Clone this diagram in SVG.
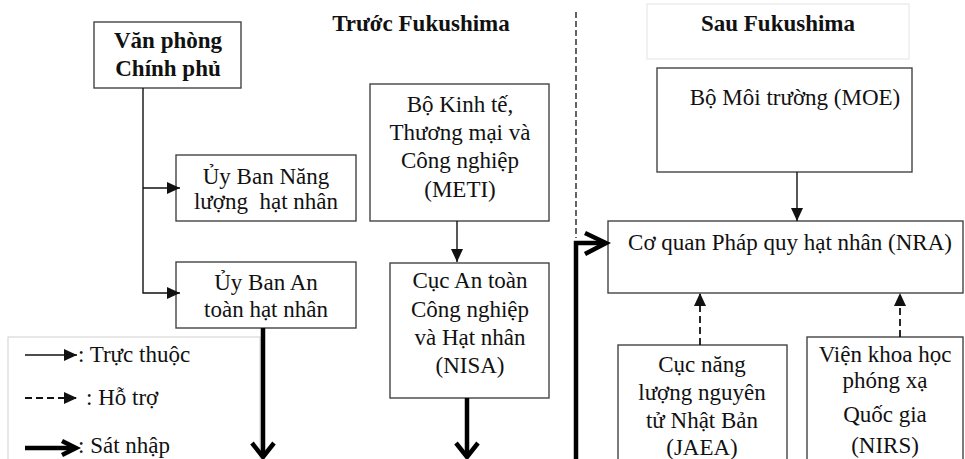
<svg xmlns="http://www.w3.org/2000/svg" width="965" height="459" viewBox="0 0 965 459">
<style>
.box{fill:#fff;stroke:#444;stroke-width:1.4}
.faint{fill:#fff;stroke:#e4e4e4;stroke-width:1}
.t{font-family:"Liberation Serif","Times New Roman",serif;font-size:23px;fill:#111;text-anchor:middle}
.b{font-weight:bold}
.l{text-anchor:start}
.thin{stroke:#111;stroke-width:1.4;fill:none}
.dash{stroke:#111;stroke-width:1.8;fill:none;stroke-dasharray:7 4}
.thick{stroke:#000;stroke-width:4.5;fill:none;stroke-linejoin:miter}
.div{stroke:#111;stroke-width:1.3;stroke-dasharray:6 3;fill:none}
</style>
<defs>
<marker id="tri" markerUnits="userSpaceOnUse" viewBox="0 0 13 12" refX="13" refY="6" markerWidth="13" markerHeight="12" orient="auto">
<path d="M0,0 L13,6 L0,12 z" fill="#111"/>
</marker>
</defs>

<rect class="faint" x="647" y="4" width="262" height="55"/>
<text class="t b" x="421" y="31">Trước Fukushima</text>
<text class="t b" x="778" y="31">Sau Fukushima</text>

<g id="vpcp">
<rect class="box" x="94" y="22" width="147" height="66"/>
<text class="t b" x="168" y="48">Văn phòng</text>
<text class="t b" x="168" y="76">Chính phủ</text>
</g>
<g id="ubnl">
<rect class="box" x="176" y="155" width="180" height="66"/>
<text class="t" x="266" y="184">Ủy Ban Năng</text>
<text class="t" x="266" y="209" xml:space="preserve">lượng  hạt nhân</text>
</g>
<g id="ubat">
<rect class="box" x="176" y="262" width="180" height="66"/>
<text class="t" x="266" y="290">Ủy Ban An</text>
<text class="t" x="266" y="317">toàn hạt nhân</text>
</g>
<g id="meti">
<rect class="box" x="370" y="84" width="179" height="137"/>
<text class="t" x="460" y="112">Bộ Kinh tế,</text>
<text class="t" x="460" y="140">Thương mại và</text>
<text class="t" x="460" y="168">Công nghiệp</text>
<text class="t" x="460" y="197">(METI)</text>
</g>
<g id="nisa">
<rect class="box" x="390" y="263" width="159" height="135"/>
<text class="t" x="470" y="288">Cục An toàn</text>
<text class="t" x="470" y="317">Công nghiệp</text>
<text class="t" x="470" y="345">và Hạt nhân</text>
<text class="t" x="470" y="373">(NISA)</text>
</g>
<g id="moe">
<rect class="box" x="657" y="68" width="255" height="104"/>
<text class="t" x="795" y="105">Bộ Môi trường (MOE)</text>
</g>
<g id="nra">
<rect class="box" x="608" y="221" width="355" height="72"/>
<text class="t" x="790" y="250">Cơ quan Pháp quy hạt nhân (NRA)</text>
</g>
<g id="jaea">
<rect class="box" x="618" y="345" width="169" height="120"/>
<text class="t" x="702" y="372">Cục năng</text>
<text class="t" x="702" y="400">lượng nguyên</text>
<text class="t" x="702" y="428">tử Nhật Bản</text>
<text class="t" x="702" y="455">(JAEA)</text>
</g>
<g id="nirs">
<rect class="box" x="807" y="337" width="156" height="130"/>
<text class="t" x="885" y="362">Viện khoa học</text>
<text class="t" x="885" y="388">phóng xạ</text>
<text class="t" x="885" y="422">Quốc gia</text>
<text class="t" x="885" y="453">(NIRS)</text>
</g>

<g id="legend">
<rect x="8" y="337" width="252" height="140" fill="#fff" stroke="#d0d0d0" stroke-width="1"/>
<line class="thin" x1="25" y1="355" x2="77" y2="355" marker-end="url(#tri)"/>
<text class="t l" x="78" y="362">: Trực thuộc</text>
<line class="dash" x1="25" y1="398" x2="77" y2="398" marker-end="url(#tri)"/>
<text class="t l" x="86" y="405">: Hỗ trợ</text>
<line class="thick" x1="25" y1="448" x2="74" y2="448"/>
<polyline class="thick" points="62,441 76,448 62,455"/>
<text class="t l" x="78" y="453">: Sát nhập</text>
</g>

<line class="div" x1="576" y1="12" x2="576" y2="238"/>

<g id="connectors">
<polyline class="thin" points="143,88 143,293 180,293" marker-end="url(#tri)"/>
<line class="thin" x1="143" y1="188" x2="180" y2="188" marker-end="url(#tri)"/>
<line class="thin" x1="457" y1="221" x2="457" y2="262" marker-end="url(#tri)"/>
<line class="thin" x1="797" y1="172" x2="797" y2="221" marker-end="url(#tri)"/>
<line class="dash" x1="700" y1="345" x2="700" y2="293" marker-end="url(#tri)"/>
<line class="dash" x1="900" y1="337" x2="900" y2="293" marker-end="url(#tri)"/>
<line class="thick" x1="263" y1="328" x2="263" y2="457"/>
<polyline class="thick" points="252,443 263,457 274,443"/>
<line class="thick" x1="467" y1="398" x2="467" y2="457"/>
<polyline class="thick" points="456,443 467,457 478,443"/>
<polyline class="thick" points="576,459 576,243 605,243"/>
<polyline class="thick" points="585,233 606,243 585,254"/>
</g>
</svg>
